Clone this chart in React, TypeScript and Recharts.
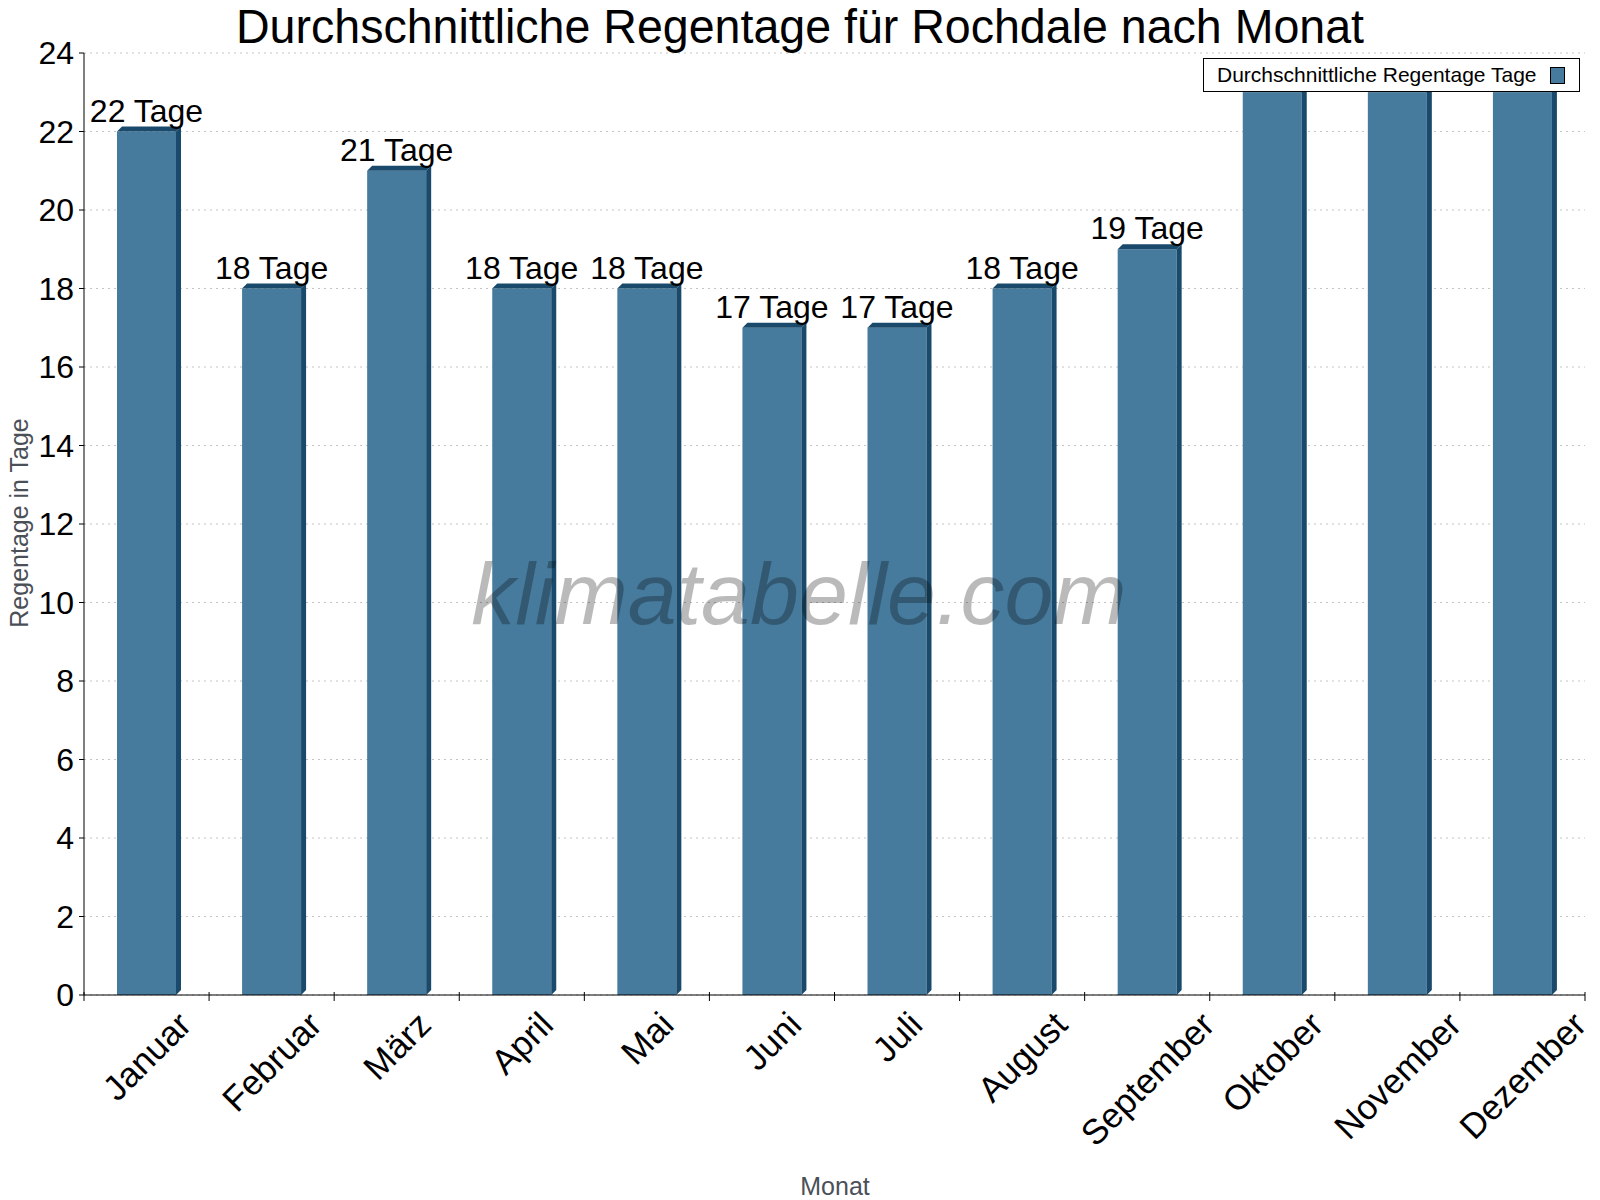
import React from 'react'
import {
  BarChart,
  Bar,
  XAxis,
  YAxis,
  CartesianGrid,
  LabelList,
  Legend,
  Customized,
} from 'recharts'

const months = [
  'Januar',
  'Februar',
  'März',
  'April',
  'Mai',
  'Juni',
  'Juli',
  'August',
  'September',
  'Oktober',
  'November',
  'Dezember',
]
const rainDays = [22, 18, 21, 18, 18, 17, 17, 18, 19, 23, 23, 23]
const yTicks = [0, 2, 4, 6, 8, 10, 12, 14, 16, 18, 20, 22, 24]
const unit = 'Tage'

const W = 1600
const H = 1200
const PLOT_LEFT = 84
const PLOT_RIGHT = 1585
const PLOT_TOP = 53
const PLOT_BOTTOM = 995
const BAND = (PLOT_RIGHT - PLOT_LEFT) / months.length
const FONT = '"Liberation Sans", Arial, Helvetica, sans-serif'
const FRONT = '#467b9d'
const DARK = '#1a4a6b'
const DEPTH = 5

const data = months.map((m, i) => ({ month: m, days: rainDays[i] }))

let ctx: CanvasRenderingContext2D | null = null
const textWidth = (s: string, size: number) => {
  if (!ctx) ctx = document.createElement('canvas').getContext('2d')
  if (!ctx) return s.length * size * 0.55
  ctx.font = `${size}px ${FONT}`
  return ctx.measureText(s).width
}

// front face + dark top and side, like a shallow 3d bar
const Bar3D = (props: any) => {
  const { x, y, width, height } = props
  if (!height) return null
  const r = x + width
  const b = y + height
  return (
    <g>
      <rect x={x} y={y} width={width} height={height} fill={FRONT} />
      <polygon
        points={`${x},${y} ${x + DEPTH},${y - DEPTH} ${r + DEPTH},${y - DEPTH} ${r},${y}`}
        fill={DARK}
      />
      <polygon
        points={`${r},${y} ${r + DEPTH},${y - DEPTH} ${r + DEPTH},${b - DEPTH} ${r},${b}`}
        fill={DARK}
      />
    </g>
  )
}

const ValueLabel = (props: any) => {
  const { x, y, width, value } = props
  return (
    <text
      x={Number(x) + Number(width) / 2}
      y={Number(y) - 10}
      textAnchor="middle"
      fontSize={32}
      fontFamily={FONT}
      fill="#000"
    >
      {`${value} ${unit}`}
    </text>
  )
}

const MonthTick = (props: any) => {
  const { x, payload, index } = props
  const size = 35
  const w = textWidth(payload.value, size)
  const cy = PLOT_BOTTOM + 9 + (w + 40) * 0.3536
  return (
    <g>
      <line x1={x + BAND / 2} x2={x + BAND / 2} y1={PLOT_BOTTOM - 3} y2={PLOT_BOTTOM + 6} stroke="#000" />
      {index === 0 && (
        <line x1={x - BAND / 2} x2={x - BAND / 2} y1={PLOT_BOTTOM - 3} y2={PLOT_BOTTOM + 6} stroke="#000" />
      )}
      <text
        x={x}
        y={cy}
        textAnchor="middle"
        dominantBaseline="central"
        transform={`rotate(-45 ${x} ${cy})`}
        fontSize={size}
        fontFamily={FONT}
        fill="#000"
      >
        {payload.value}
      </text>
    </g>
  )
}

const Titles = () => (
  <g fontFamily={FONT}>
    <text x={800} y={43} textAnchor="middle" fontSize={48} textLength={1128} lengthAdjust="spacingAndGlyphs" fill="#000">
      Durchschnittliche Regentage für Rochdale nach Monat
    </text>
    <text x={28} y={523} textAnchor="middle" fontSize={25} fill="#4b5058" transform="rotate(-90 28 523)">
      Regentage in Tage
    </text>
    <text x={835} y={1195} textAnchor="middle" fontSize={25} fill="#4b5058">
      Monat
    </text>
  </g>
)

const LegendBox = () => (
  <div
    style={{
      boxSizing: 'border-box',
      width: 377,
      height: 34,
      border: '1px solid #000',
      background: '#fff',
      display: 'flex',
      alignItems: 'center',
      fontFamily: FONT,
      fontSize: 21,
      color: '#000',
      paddingLeft: 13,
    }}
  >
    <span>Durchschnittliche Regentage {unit}</span>
    <span
      style={{
        boxSizing: 'border-box',
        marginLeft: 13,
        width: 15,
        height: 17,
        background: FRONT,
        border: '1.5px solid #000',
      }}
    />
  </div>
)

export default function App() {
  return (
    <div style={{ position: 'absolute', left: 0, top: 0, width: W, height: H, background: '#fff' }}>
      <BarChart
        width={W}
        height={H}
        data={data}
        margin={{ top: PLOT_TOP, right: W - PLOT_RIGHT, bottom: 55, left: PLOT_LEFT - 70 }}
      >
        <CartesianGrid vertical={false} stroke="#c4c4c4" strokeDasharray="2 4" />
        <XAxis
          dataKey="month"
          interval={0}
          height={150}
          tickLine={false}
          axisLine={{ stroke: '#000' }}
          tick={<MonthTick />}
        />
        <YAxis
          domain={[0, 24]}
          ticks={yTicks}
          interval={0}
          allowDataOverflow
          width={70}
          tickSize={5}
          tickMargin={5}
          axisLine={{ stroke: '#000' }}
          tickLine={{ stroke: '#000' }}
          tick={{ fontSize: 32, fill: '#000', fontFamily: FONT }}
        />
        <YAxis
          yAxisId="r"
          orientation="right"
          domain={[0, 24]}
          width={0}
          tick={false}
          tickLine={false}
          axisLine={{ stroke: '#000' }}
        />
        <Bar dataKey="days" barSize={59} shape={<Bar3D />} isAnimationActive={false}>
          <LabelList dataKey="days" content={<ValueLabel />} />
        </Bar>
        <Customized component={<Titles />} />
        <Legend
          verticalAlign="middle"
          align="center"
          layout="horizontal"
          wrapperStyle={{ position: 'absolute', left: 1203, top: 58, width: 377, height: 34, margin: 0 }}
          content={<LegendBox />}
        />
      </BarChart>
      <svg
        width={W}
        height={H}
        style={{ position: 'absolute', left: 0, top: 0, pointerEvents: 'none' }}
      >
        <text
          x={799}
          y={624}
          textAnchor="middle"
          fontSize={88}
          fontStyle="italic"
          fontFamily={FONT}
          fill="#000"
          fillOpacity={0.27}
        >
          klimatabelle.com
        </text>
      </svg>
    </div>
  )
}
